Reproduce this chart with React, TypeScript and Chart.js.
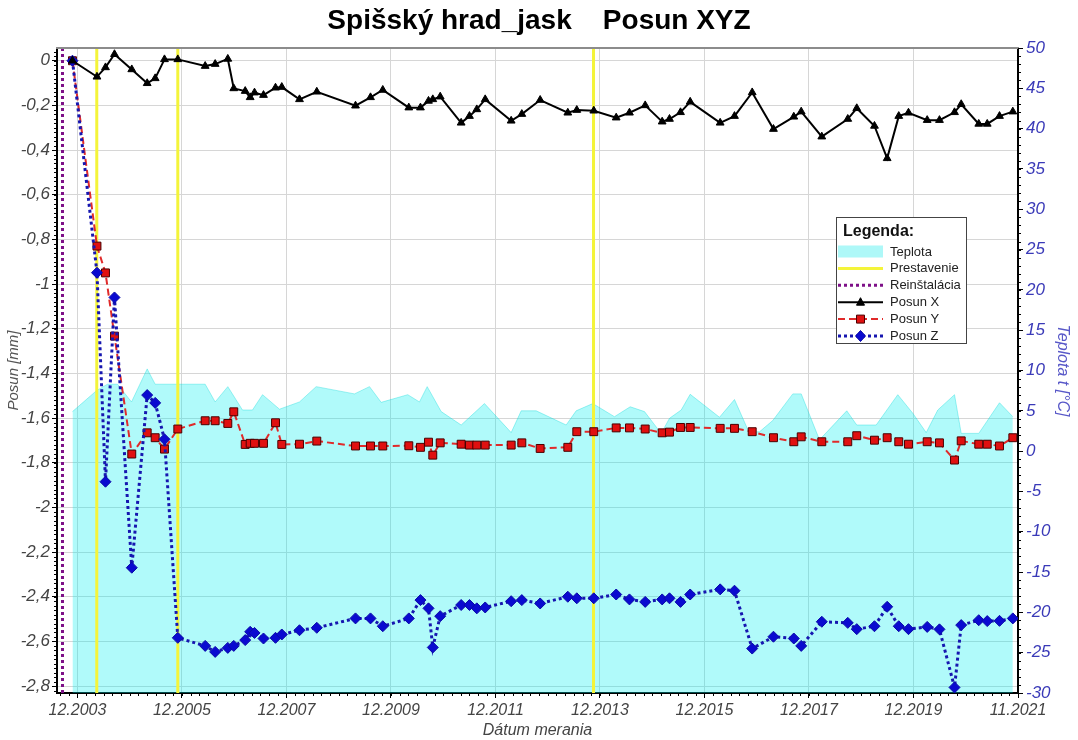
import React, { useEffect, useRef } from 'react';
import { Chart, registerables } from 'chart.js';

Chart.register(...registerables);

const FONT = "'Liberation Sans', Arial, sans-serif";

// measurement dates (decimal years) shared by Posun X / Y / Z
const measurementDates = [
  2003.821, 2004.29, 2004.453, 2004.625, 2004.956, 2005.251, 2005.404, 2005.582, 2005.837, 2006.361,
  2006.552, 2006.794, 2006.908, 2007.127, 2007.222, 2007.305, 2007.477, 2007.707, 2007.827, 2008.166,
  2008.497, 2009.238, 2009.525, 2009.76, 2010.258, 2010.481, 2010.635, 2010.717, 2010.859, 2011.26,
  2011.419, 2011.559, 2011.72, 2012.217, 2012.421, 2012.772, 2013.301, 2013.473, 2013.798, 2014.227,
  2014.481, 2014.782, 2015.107, 2015.247, 2015.458, 2015.643, 2016.217, 2016.491, 2016.83, 2017.237,
  2017.626, 2017.768, 2018.162, 2018.659, 2018.831, 2019.17, 2019.413, 2019.635, 2019.821, 2020.179,
  2020.414, 2020.702, 2020.83, 2021.166, 2021.328, 2021.563, 2021.818,
];

const posunX = [
  0, -0.072, -0.03, 0.029, -0.039, -0.101, -0.079, 0.006, 0.006, -0.024,
  -0.015, 0.008, -0.124, -0.136, -0.164, -0.143, -0.154, -0.121, -0.118, -0.173,
  -0.139, -0.2015, -0.164, -0.131, -0.21, -0.21, -0.18, -0.173, -0.161, -0.278,
  -0.248, -0.218, -0.173, -0.269, -0.239, -0.176, -0.233, -0.221, -0.224, -0.255,
  -0.233, -0.2, -0.273, -0.261, -0.231, -0.184, -0.278, -0.248, -0.142, -0.306,
  -0.251, -0.228, -0.34, -0.261, -0.213, -0.292, -0.437, -0.248, -0.233, -0.266,
  -0.266, -0.231, -0.195, -0.283, -0.283, -0.248, -0.228,
];

const posunY = [
  0, -0.83, -0.95, -1.233, -1.761, -1.666, -1.688, -1.739, -1.649, -1.612,
  -1.612, -1.624, -1.572, -1.718, -1.713, -1.713, -1.713, -1.621, -1.718, -1.717,
  -1.703, -1.725, -1.725, -1.725, -1.724, -1.731, -1.708, -1.766, -1.711, -1.717,
  -1.721, -1.721, -1.721, -1.721, -1.711, -1.736, -1.731, -1.661, -1.661, -1.644,
  -1.644, -1.649, -1.666, -1.663, -1.642, -1.642, -1.646, -1.646, -1.661, -1.688,
  -1.706, -1.684, -1.706, -1.706, -1.679, -1.699, -1.688, -1.706, -1.717, -1.706,
  -1.711, -1.788, -1.702, -1.717, -1.717, -1.725, -1.688,
];

const posunZ = [
  0, -0.949, -1.885, -1.06, -2.27, -1.497, -1.532, -1.695, -2.584, -2.62,
  -2.647, -2.629, -2.62, -2.594, -2.557, -2.562, -2.587, -2.584, -2.569, -2.55,
  -2.539, -2.497, -2.497, -2.532, -2.497, -2.415, -2.452, -2.627, -2.487, -2.437,
  -2.437, -2.452, -2.448, -2.42, -2.415, -2.43, -2.4, -2.407, -2.407, -2.39,
  -2.412, -2.423, -2.412, -2.407, -2.423, -2.39, -2.367, -2.373, -2.632, -2.579,
  -2.587, -2.62, -2.512, -2.517, -2.545, -2.532, -2.445, -2.532, -2.545, -2.535,
  -2.546, -2.806, -2.527, -2.505, -2.509, -2.508, -2.497,
];

// temperature (Teplota)
const teplotaDates = [
  2003.821, 2004.281, 2004.491, 2004.683, 2004.951, 2005.251, 2005.404, 2006.361, 2006.552, 2006.794,
  2007.075, 2007.266, 2007.458, 2007.783, 2008.166, 2008.485, 2009.218, 2009.506, 2009.729, 2010.238,
  2010.462, 2010.61, 2010.878, 2011.26, 2011.706, 2012.217, 2012.409, 2012.696, 2013.27, 2013.461,
  2013.779, 2014.194, 2014.495, 2014.769, 2015.088, 2015.247, 2015.471, 2015.643, 2016.204, 2016.491,
  2016.765, 2016.97, 2017.224, 2017.607, 2017.768, 2018.118, 2018.64, 2018.831, 2019.203, 2019.616,
  2019.903, 2020.16, 2020.382, 2020.702, 2020.83, 2021.166, 2021.563, 2021.818,
];
const teplotaValues = [
  4.9, 7.5, 8.3, 8.3, 6.1, 10.2, 8.3, 8.3, 6.1, 8.0,
  5.1, 5.1, 7.0, 5.2, 6.1, 8.0, 7.1, 8.0, 6.05, 7.0,
  6.1, 8.0, 4.9, 3.24, 5.9, 2.3, 5.0, 5.0, 3.24, 5.0,
  5.9, 4.27, 5.5, 4.9, 2.2, 4.07, 5.1, 7.05, 4.2, 6.4,
  2.4, 2.4, 3.8, 7.1, 7.1, 1.4, 5.0, 3.24, 3.24, 7.0,
  4.7, 2.3, 5.1, 7.0, 2.2, 2.2, 6.0, 4.27,
];

const prestavenieDates = [2004.286, 2005.837, 2013.793];
const reinstalaciaDates = [2003.63];

const xTickValues = [2003.917, 2005.917, 2007.917, 2009.917, 2011.917, 2013.917, 2015.917, 2017.917, 2019.917, 2021.917];
const xTickLabels = ['12.2003', '12.2005', '12.2007', '12.2009', '12.2011', '12.2013', '12.2015', '12.2017', '12.2019', '11.2021'];

const X_MIN = 2003.525;
const X_MAX = 2021.917;
const Y_MIN = -2.831;
const Y_MAX = 0.057;
const T_MIN = -30;
const T_MAX = 50;

const legendOrder = ['Teplota', 'Prestavenie', 'Reinštalácia', 'Posun X', 'Posun Y', 'Posun Z'];

const pts = (xs: number[], ys: number[]) => xs.map((x, i) => ({ x, y: ys[i] }));
const vlines = (dates: number[]) =>
  dates.flatMap((d) => [{ x: d, y: Y_MIN }, { x: d, y: Y_MAX }, { x: d, y: null as any }]);

function drawMarker(ctx: CanvasRenderingContext2D, style: string, cx: number, cy: number, fill: string, stroke: string) {
  ctx.save();
  ctx.setLineDash([]);
  ctx.fillStyle = fill;
  ctx.strokeStyle = stroke;
  ctx.lineWidth = 1;
  ctx.beginPath();
  if (style === 'triangle') {
    ctx.moveTo(cx, cy - 4.5);
    ctx.lineTo(cx - 4, cy + 3);
    ctx.lineTo(cx + 4, cy + 3);
    ctx.closePath();
  } else if (style === 'rect') {
    ctx.rect(cx - 4, cy - 4, 8, 8);
  } else if (style === 'rectRot') {
    ctx.moveTo(cx, cy - 5.5);
    ctx.lineTo(cx + 5, cy);
    ctx.lineTo(cx, cy + 5.5);
    ctx.lineTo(cx - 5, cy);
    ctx.closePath();
  }
  ctx.fill();
  ctx.stroke();
  ctx.restore();
}

const decorPlugin = {
  id: 'decor',
  afterDraw(chart: any) {
    const ctx: CanvasRenderingContext2D = chart.ctx;
    const { left, right, top, bottom } = chart.chartArea;
    const ys = chart.scales.y;
    const ts = chart.scales.yT;
    const xs = chart.scales.x;
    ctx.save();
    // top frame
    ctx.strokeStyle = '#8c8c8c';
    ctx.lineWidth = 2;
    ctx.beginPath();
    ctx.moveTo(left - 1, top);
    ctx.lineTo(right + 1, top);
    ctx.stroke();
    // minor ticks
    ctx.strokeStyle = '#000';
    ctx.lineWidth = 1;
    ctx.beginPath();
    for (let k = Math.ceil(ys.min / 0.02); k * 0.02 <= ys.max + 1e-9; k++) {
      const py = Math.round(ys.getPixelForValue(k * 0.02)) + 0.5;
      ctx.moveTo(left - 3, py);
      ctx.lineTo(left, py);
    }
    for (let v = T_MIN; v <= T_MAX; v++) {
      const py = Math.round(ts.getPixelForValue(v)) + 0.5;
      ctx.moveTo(right, py);
      ctx.lineTo(right + 3, py);
    }
    for (let k = -6; k < 120; k++) {
      const v = xTickValues[0] + k / 6;
      if (v < xs.min || v > xs.max) continue;
      const px = Math.round(xs.getPixelForValue(v)) + 0.5;
      ctx.moveTo(px, bottom);
      ctx.lineTo(px, bottom + 3);
    }
    ctx.stroke();

    // legend box
    const bx = 836, by = 217, bw = 130, bh = 126;
    ctx.fillStyle = '#ffffff';
    ctx.fillRect(bx, by, bw, bh);
    ctx.strokeStyle = '#444';
    ctx.lineWidth = 1;
    ctx.strokeRect(bx + 0.5, by + 0.5, bw, bh);
    ctx.fillStyle = '#111';
    ctx.textBaseline = 'middle';
    ctx.textAlign = 'left';
    ctx.font = `bold 16px ${FONT}`;
    ctx.fillText('Legenda:', 843, 232);
    legendOrder.forEach((label, i) => {
      const ds = chart.data.datasets.find((d: any) => d.label === label);
      if (!ds) return;
      const cy = 251.5 + i * 16.9;
      if (ds.fill) {
        ctx.fillStyle = ds.legendColor || ds.backgroundColor;
        ctx.fillRect(838, cy - 6, 45, 12);
      } else {
        ctx.save();
        ctx.strokeStyle = ds.borderColor;
        ctx.lineWidth = ds.borderWidth;
        ctx.setLineDash(ds.borderDash || []);
        ctx.beginPath();
        ctx.moveTo(838, cy);
        ctx.lineTo(883, cy);
        ctx.stroke();
        ctx.restore();
        if (ds.pointRadius > 0) {
          drawMarker(ctx, ds.pointStyle, 860.5, cy, ds.pointBackgroundColor, ds.pointBorderColor);
        }
      }
      ctx.fillStyle = '#222';
      ctx.font = `13px ${FONT}`;
      ctx.fillText(label, 890, cy + 0.5);
    });
    ctx.restore();
  },
};

export default function App() {
  const ref = useRef<HTMLCanvasElement>(null);
  useEffect(() => {
    document.body.style.margin = '0';
    Chart.defaults.font.family = FONT;
    const chart = new Chart(ref.current as HTMLCanvasElement, {
      type: 'line',
      data: {
        datasets: [
          {
            label: 'Posun X',
            data: pts(measurementDates, posunX),
            yAxisID: 'y',
            borderColor: '#000000',
            borderWidth: 2,
            pointStyle: 'triangle',
            pointRadius: 4.5,
            pointBackgroundColor: '#000000',
            pointBorderColor: '#000000',
            pointBorderWidth: 1,
            fill: false,
            order: 1,
          },
          {
            label: 'Posun Z',
            data: pts(measurementDates, posunZ),
            yAxisID: 'y',
            borderColor: '#1616b0',
            borderWidth: 3,
            borderDash: [3, 3],
            pointStyle: 'rectRot',
            pointRadius: 5.5,
            pointBackgroundColor: '#0a0ad0',
            pointBorderColor: '#0a0aa8',
            pointBorderWidth: 1,
            fill: false,
            order: 2,
          },
          {
            label: 'Posun Y',
            data: pts(measurementDates, posunY),
            yAxisID: 'y',
            borderColor: '#e02a2a',
            borderWidth: 2,
            borderDash: [7, 4],
            pointStyle: 'rect',
            pointRadius: 5.6,
            pointBackgroundColor: '#e01010',
            pointBorderColor: '#4a0000',
            pointBorderWidth: 1,
            fill: false,
            order: 3,
          },
          {
            label: 'Prestavenie',
            data: vlines(prestavenieDates),
            yAxisID: 'y',
            borderColor: '#f4f43a',
            borderWidth: 3,
            pointRadius: 0,
            fill: false,
            spanGaps: false,
            order: 4,
          },
          {
            label: 'Reinštalácia',
            data: vlines(reinstalaciaDates),
            yAxisID: 'y',
            borderColor: '#7e1088',
            borderWidth: 3,
            borderDash: [3, 3],
            pointRadius: 0,
            fill: false,
            spanGaps: false,
            order: 4,
          },
          {
            label: 'Teplota',
            data: pts(teplotaDates, teplotaValues),
            yAxisID: 'yT',
            borderColor: 'rgba(0,215,215,0.35)',
            borderWidth: 1,
            backgroundColor: 'rgba(0,239,239,0.31)',
            legendColor: '#aef8f8',
            pointRadius: 0,
            fill: 'start',
            order: 10,
          } as any,
        ],
      },
      options: {
        animation: false,
        responsive: true,
        maintainAspectRatio: false,
        layout: { padding: 0 },
        events: [],
        plugins: {
          legend: { display: false },
          tooltip: { enabled: false },
          title: {
            display: true,
            text: 'Spišský hrad_jask    Posun XYZ',
            color: '#000',
            font: { size: 28, weight: 'bold', family: FONT },
            padding: { top: 4, bottom: 10.4 },
          },
        },
        scales: {
          x: {
            type: 'linear',
            min: X_MIN,
            max: X_MAX,
            afterBuildTicks: (s: any) => {
              s.ticks = xTickValues.map((v) => ({ value: v }));
            },
            afterFit: (s: any) => {
              s.height = 47;
            },
            ticks: {
              autoSkip: false,
              maxRotation: 0,
              padding: 3,
              color: '#444',
              font: { size: 16, style: 'italic', family: FONT },
              callback: (_v: any, i: number) => xTickLabels[i],
            },
            grid: { color: '#d6d6d6', tickColor: '#000', tickLength: 5 },
            border: { color: '#000', width: 2 },
            title: {
              display: true,
              text: 'Dátum merania',
              color: '#444',
              font: { size: 16, style: 'italic', family: FONT },
              padding: { top: 0, bottom: 0 },
            },
          },
          y: {
            type: 'linear',
            position: 'left',
            min: Y_MIN,
            max: Y_MAX,
            afterFit: (s: any) => {
              s.width = 57;
            },
            ticks: {
              stepSize: 0.2,
              includeBounds: false,
              padding: 2,
              color: '#444',
              font: { size: 17, style: 'italic', family: FONT },
              callback: (v: any) => String(Math.round(Number(v) * 10) / 10).replace('.', ','),
            },
            grid: { color: '#d6d6d6', tickColor: '#000', tickLength: 5 },
            border: { color: '#000', width: 2 },
            title: {
              display: true,
              text: 'Posun [mm]',
              color: '#555',
              font: { size: 15, style: 'italic', family: FONT },
              padding: { top: 5, bottom: 0 },
            },
          },
          yT: {
            type: 'linear',
            position: 'right',
            min: T_MIN,
            max: T_MAX,
            afterFit: (s: any) => {
              s.width = 60;
            },
            ticks: {
              stepSize: 5,
              padding: 3,
              color: '#3a3ab8',
              font: { size: 17, style: 'italic', family: FONT },
            },
            grid: { drawOnChartArea: false, tickColor: '#000', tickLength: 5 },
            border: { color: '#000', width: 2 },
            title: {
              display: true,
              text: 'Teplota t [°C]',
              color: '#5858c8',
              font: { size: 16, style: 'italic', family: FONT },
              padding: { top: 6, bottom: 0 },
            },
          },
        },
      },
      plugins: [decorPlugin],
    } as any);
    return () => chart.destroy();
  }, []);
  return (
    <div style={{ width: 1078, height: 740, position: 'relative' }}>
      <canvas ref={ref} />
    </div>
  );
}
